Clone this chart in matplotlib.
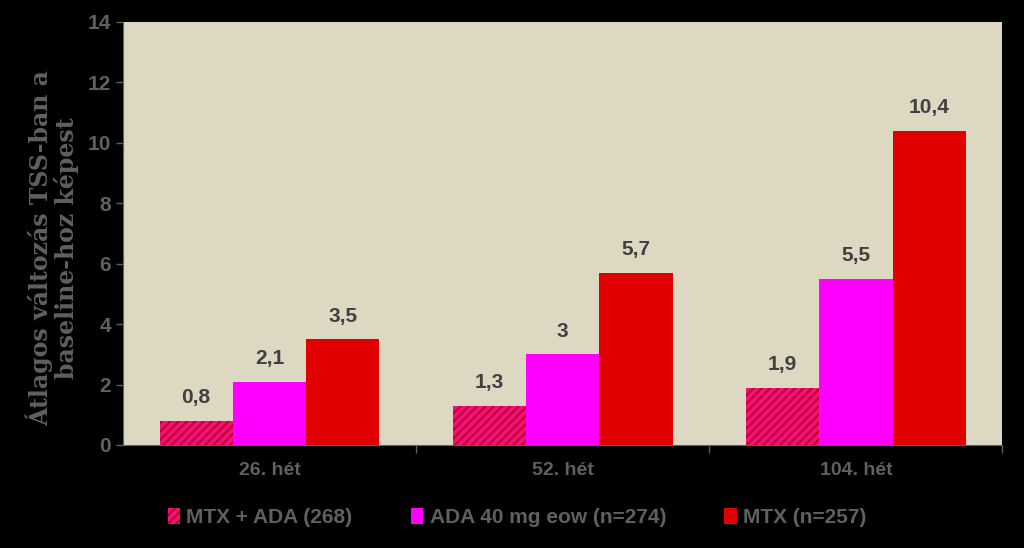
import numpy as np
import matplotlib
matplotlib.use('Agg')
import matplotlib.pyplot as plt

categories = ["26. hét", "52. hét", "104. hét"]
series_names = ["MTX + ADA (268)", "ADA 40 mg eow (n=274)", "MTX (n=257)"]
mtx_ada = [0.8, 1.3, 1.9]
ada = [2.1, 3.0, 5.5]
mtx = [3.5, 5.7, 10.4]
value_labels = [["0,8", "1,3", "1,9"], ["2,1", "3", "5,5"], ["3,5", "5,7", "10,4"]]

plt.rcParams['font.family'] = ['Liberation Sans', 'DejaVu Sans']
plt.rcParams['hatch.linewidth'] = 1.6

fig = plt.figure(figsize=(10.24, 5.48), dpi=100, facecolor='black')
ax = fig.add_axes([0.120, 0.188, 0.859, 0.772])
ax.set_facecolor('#DDD8C2')

grey = '#606060'
x = np.arange(len(categories))
w = 0.25
b1 = ax.bar(x - w, mtx_ada, w, color='#F4107E', edgecolor='#C0002E', hatch='////', linewidth=0, label=series_names[0])
b2 = ax.bar(x, ada, w, color='#FF00FF', linewidth=0, label=series_names[1])
b3 = ax.bar(x + w, mtx, w, color='#E00000', linewidth=0, label=series_names[2])

for bars, labs in zip([b1, b2, b3], value_labels):
    for bar, lab in zip(bars, labs):
        ax.text(bar.get_x() + bar.get_width() / 2, bar.get_height() + 0.45, lab,
                ha='center', va='bottom', fontsize=15, fontweight='bold', color='#404040')

ax.set_xlim(-0.5, 2.5)
ax.set_ylim(0, 14)
ax.set_yticks(range(0, 15, 2))
ax.tick_params(axis='y', colors=grey, labelsize=15, length=5, width=1)
for t in ax.get_yticklabels():
    t.set_fontweight('bold')

ax.set_xticks(x)
ax.set_xticklabels(categories, fontsize=14, fontweight='bold', color=grey)
ax.tick_params(axis='x', length=0, pad=12)
ax.set_xticks([0.5, 1.5, 2.5], minor=True)
ax.tick_params(axis='x', which='minor', length=6, color=grey, width=1)

for s in ['top', 'right']:
    ax.spines[s].set_visible(False)
ax.spines['left'].set_color(grey)
ax.spines['bottom'].set_color(grey)

ax.set_ylabel("Átlagos változás TSS-ban a\nbaseline-hoz képest", family=['DejaVu Serif'],
              fontsize=17, fontweight='heavy', color=grey, linespacing=1.05)
ax.yaxis.set_label_coords(-0.05, 0.466)

leg = fig.legend(loc='center', bbox_to_anchor=(0.505, 0.055), ncol=3, frameon=False,
                 fontsize=15, handlelength=0.6, handleheight=0.8, handletextpad=0.3,
                 columnspacing=2.8)
for t in leg.get_texts():
    t.set_color(grey)
    t.set_fontweight('bold')

fig.savefig('out.png', dpi=100, facecolor='black')
